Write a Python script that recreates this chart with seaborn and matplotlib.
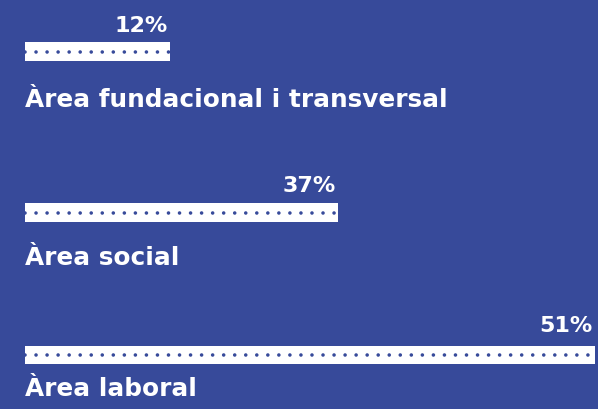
import numpy as np
import pandas as pd
import matplotlib
matplotlib.use("Agg")
import matplotlib.pyplot as plt
import seaborn as sns

# data
areas = ["Àrea fundacional i transversal", "Àrea social", "Àrea laboral"]
pct_values = [12, 37, 51]          # printed labels
bar_lengths = [13, 28, 51]         # drawn bar extents (not proportional in the original)

# layout (pixels from top)
bar_y = [51.5, 212.5, 355]
pct_base = [32, 192, 332]
label_base = [107, 265, 396]
bar_h = 18.5

bg = "#374A9A"
W, H = 598, 409

sns.set_style("white")
plt.rcParams['font.family'] = ['DejaVu Sans']

fig = plt.figure(figsize=(W / 100, H / 100), dpi=100)
fig.patch.set_facecolor(bg)
ax = fig.add_axes([0, 0, 1, 1])
ax.set_facecolor(bg)

# x: 0 at 25px, 51 at 595px
px = 570 / 51
df = pd.DataFrame({"len": bar_lengths, "y": bar_y})
sns.barplot(data=df, x="len", y="y", orient="h", native_scale=True,
            width=bar_h / min(np.diff(bar_y)), color="white", saturation=1,
            linewidth=0, ax=ax)

# dotted line through each bar
for L, y in zip(bar_lengths, bar_y):
    ax.plot([0, L], [y, y], color=bg, lw=2.6, dash_capstyle="round",
            linestyle=(0, (0.001, 11 / 3.6)))

for L, v, yb in zip(bar_lengths, pct_values, pct_base):
    ax.text(L - 2.5 / px, yb, f"{v}%", ha="right", va="baseline",
            color="white", fontsize=16, fontweight="bold")

for name, yb in zip(areas, label_base):
    ax.text(0, yb, name, ha="left", va="baseline", color="white",
            fontsize=17.8, fontweight="bold")

ax.set_xlim(-25 / px, (W - 25) / px)
ax.set_ylim(H, 0)
ax.axis("off")

fig.savefig("out.png", dpi=100, facecolor=bg)
